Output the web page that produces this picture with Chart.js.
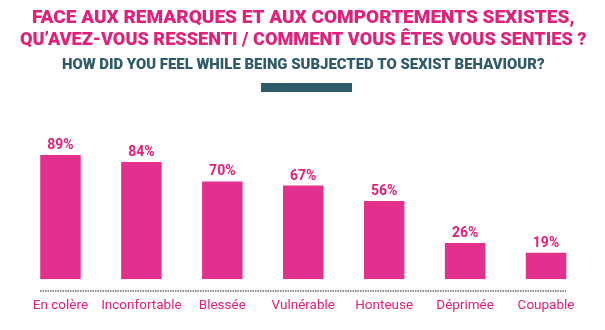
<!DOCTYPE html>
<html>
<head>
<meta charset="utf-8">
<script src="https://cdn.jsdelivr.net/npm/chart.js@4/dist/chart.umd.min.js"></script>
<style>
html,body{margin:0;padding:0;background:#fff;}
#wrap{position:relative;width:605px;height:330px;}
</style>
</head>
<body>
<div id="wrap"><canvas id="c" width="605" height="330"></canvas></div>
<script>
const categories = ["En colère", "Inconfortable", "Blessée", "Vulnérable", "Honteuse", "Déprimée", "Coupable"];
const values = [89, 84, 70, 67, 56, 26, 19];
const titleLines = ["FACE AUX REMARQUES ET AUX COMPORTEMENTS SEXISTES,", "QU’AVEZ-VOUS RESSENTI / COMMENT VOUS ÊTES VOUS SENTIES ?"];
const subtitleText = "HOW DID YOU FEEL WHILE BEING SUBJECTED TO SEXIST BEHAVIOUR?";

const PINK_BAR = "#E32F8D";
const PINK_TEXT = "#E0207A";
const TEAL = "#2F5B68";

const decor = {
  id: "decor",
  beforeDraw(chart) {
    const ctx = chart.ctx;
    ctx.save();
    ctx.fillStyle = TEAL;
    ctx.fillRect(chart.width / 2 - 41.5, 83, 91, 9);
    ctx.restore();
  },
  afterDraw(chart) {
    const ctx = chart.ctx;
    const meta = chart.getDatasetMeta(0);
    ctx.save();
    ctx.setLineDash([]);
    ctx.font = "bold 14px Roboto, 'Liberation Sans', sans-serif";
    ctx.fillStyle = PINK_TEXT;
    ctx.textAlign = "center";
    ctx.textBaseline = "middle";
    meta.data.forEach((bar, i) => {
      ctx.fillText(values[i] + "%", bar.x, bar.y - 9.5);
    });
    ctx.restore();

    const first = meta.data[0], last = meta.data[meta.data.length - 1];
    const half = 20;
    const lineY = Math.round(chart.scales.y.bottom) + 11;
    ctx.save();
    ctx.globalAlpha = 1;
    ctx.globalCompositeOperation = "source-over";
    ctx.setLineDash([1.5, 1]);
    ctx.strokeStyle = "#8e8e8e";
    ctx.lineWidth = 2;
    ctx.beginPath();
    ctx.moveTo(Math.round(first.x - half), lineY + 1);
    ctx.lineTo(Math.round(last.x + half), lineY + 1);
    ctx.stroke();
    ctx.restore();
  }
};

new Chart(document.getElementById("c"), {
  type: "bar",
  data: {
    labels: categories,
    datasets: [{
      data: values,
      backgroundColor: PINK_BAR,
      borderWidth: 0,
      barPercentage: 0.5,
      categoryPercentage: 1.0
    }]
  },
  options: {
    responsive: false,
    animation: false,
    devicePixelRatio: 1,
    layout: { padding: { left: 20, right: 18.5, top: 0, bottom: -3 } },
    plugins: {
      legend: { display: false },
      tooltip: { enabled: false },
      title: {
        display: true,
        text: titleLines,
        color: PINK_TEXT,
        font: { family: "Roboto, 'Liberation Sans', sans-serif", size: 19, weight: 900, lineHeight: 1.13 },
        padding: { top: 8, bottom: 0 }
      },
      subtitle: {
        display: true,
        text: subtitleText,
        color: TEAL,
        font: { family: "Roboto, 'Liberation Sans', sans-serif", size: 14.9, weight: 900, lineHeight: 1.1 },
        padding: { top: 6.2, bottom: 66 }
      }
    },
    scales: {
      x: {
        grid: { display: false, drawTicks: false },
        border: { display: false },
        ticks: {
          color: PINK_TEXT,
          padding: 18.8,
          maxRotation: 0,
          minRotation: 0,
          autoSkip: false,
          font: { family: "Roboto, 'Liberation Sans', sans-serif", size: 13.5, lineHeight: 1.2 }
        }
      },
      y: {
        display: false,
        min: 0,
        max: 100
      }
    }
  },
  plugins: [decor]
});
</script>
</body>
</html>
